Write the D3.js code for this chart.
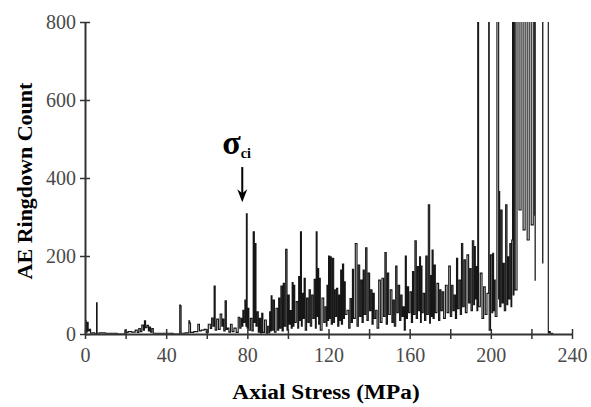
<!DOCTYPE html>
<html>
<head>
<meta charset="utf-8">
<script src="https://cdn.jsdelivr.net/npm/d3@7"></script>
<style>
  body { margin: 0; background: #fff; }
  text { font-family: "Liberation Serif", "Times New Roman", serif; }
</style>
</head>
<body>
<script>
// AE ringdown count against axial stress (peak / trough pairs)
var stress = [
  0, 0.3, 0.8, 1.3, 1.8, 2.5, 3, 4, 5.6, 5.8,
  6.1, 8, 12, 19.5, 19.8, 20.5, 22, 24, 25.5, 26,
  27, 27.5, 28.5, 29, 29.6, 30.1, 31, 31.5, 32, 32.6,
  33.3, 34, 40, 46.6, 46.8, 47.2, 47.5, 51.1, 51.3, 51.8,
  52.2, 55, 56.2, 56.6, 58, 59.5, 60, 61.5, 62, 62.8,
  63.3, 64, 64.3, 65.5, 66, 67.2, 67.6, 68.2, 68.6, 69.5,
  69.8, 70.6, 71.2, 72.2, 72.8, 74, 75, 76, 76.5, 77.3,
  77.6, 78, 78.4, 79.2, 79.4, 79.7, 80.1, 80.5, 81, 82,
  82.5, 83.3, 83.6, 84.1, 84.4, 85.2, 85.6, 86.3, 86.7, 87.5,
  87.8, 89.2, 89.5, 90.5, 90.8, 91.2, 91.5, 92, 92.3, 93.2,
  93.5, 94.8, 95.1, 95.8, 96.1, 97, 97.3, 98.1, 98.4, 99.4,
  99.7, 100.5, 100.8, 101.5, 101.8, 102.4, 102.7, 103.2, 103.5, 104.7,
  105, 105.6, 105.9, 106.5, 106.8, 107.3, 107.6, 108.4, 108.7, 109.7,
  110, 110.9, 111.2, 112.2, 112.5, 113.4, 113.7, 114.2, 114.5, 115,
  115.3, 115.8, 116.1, 117.5, 117.8, 118.8, 119.1, 119.4, 119.7, 120.4,
  120.7, 121.2, 121.5, 122.4, 122.7, 123.2, 123.5, 124.4, 124.7, 125.5,
  125.8, 126.2, 126.5, 127.3, 127.6, 128.1, 128.4, 129.8, 130.1, 131.1,
  131.4, 132.2, 132.5, 133.9, 134.2, 135.2, 135.5, 136.4, 136.7, 137.5,
  137.8, 138.8, 139.1, 140.1, 140.4, 141.3, 141.6, 142.4, 142.7, 143.8,
  144.1, 145.4, 145.7, 147, 147.3, 148.3, 148.6, 149.5, 149.8, 151.1,
  151.4, 152.3, 152.6, 153.6, 153.9, 154.9, 155.2, 156.1, 156.4, 157.2,
  157.5, 158.2, 158.5, 159.3, 159.6, 160.7, 161, 161.8, 162.1, 163.1,
  163.4, 164.3, 164.6, 165.2, 165.5, 165.9, 166.2, 167.2, 167.5, 168.4,
  168.7, 169.7, 170, 170.4, 170.7, 171.4, 171.7, 172.5, 172.8, 174.1,
  174.4, 175.3, 175.6, 176.6, 176.9, 178.3, 178.6, 179.9, 180.2, 181.2,
  181.5, 182.4, 182.7, 183.5, 183.8, 184.8, 185.1, 186, 186.3, 187.3,
  187.6, 188.9, 189.2, 190.1, 190.4, 191.4, 191.7, 192.2, 192.5, 193,
  193.3, 193.8, 194.1, 195.5, 195.8, 197.1, 197.4, 198.8, 199.1, 199.3,
  200.4, 200.7, 201.2, 201.5, 202, 202.3, 203.7, 204, 204.2, 204.5,
  205.4, 205.7, 206.5, 206.8, 207.8, 208.1, 208.6, 208.9, 209.8, 210.1,
  210.5, 210.9, 211.2, 211.6, 212.4, 213.4, 214.4, 215.4, 216.4, 217.4,
  218.4, 219.4, 220.4, 221.4, 221.8, 221.85, 221.9, 225.5, 225.6, 225.65,
  228.3, 228.35, 229, 229.5, 231
];
var count = [
  0, 34, 5, 30, 8, 12, 2, 3, 0, 80,
  2, 3, 2, 0, 10, 4, 6, 5, 10, 4,
  14, 6, 23, 10, 34, 16, 22, 8, 18, 5,
  14, 2, 2, 0, 74, 72, 2, 3, 34, 28,
  4, 6, 25, 8, 10, 12, 4, 25, 14, 41,
  20, 123, 10, 38, 12, 51, 20, 38, 8, 85,
  12, 15, 5, 25, 6, 15, 4, 43, 15, 40,
  20, 61, 30, 87, 20, 308, 15, 66, 10, 40,
  8, 262, 30, 232, 20, 57, 5, 40, 3, 53,
  4, 36, 2, 20, 3, 57, 8, 98, 10, 87,
  5, 66, 10, 92, 15, 123, 8, 130, 20, 217,
  10, 100, 25, 60, 15, 132, 20, 125, 30, 83,
  15, 147, 35, 262, 20, 104, 40, 143, 10, 92,
  30, 113, 20, 100, 40, 140, 15, 262, 45, 168,
  25, 143, 10, 92, 30, 70, 20, 125, 35, 200,
  40, 198, 25, 194, 30, 113, 45, 117, 20, 100,
  35, 164, 25, 179, 40, 134, 50, 61, 15, 91,
  30, 166, 40, 232, 20, 177, 45, 138, 30, 164,
  50, 221, 35, 156, 60, 113, 25, 104, 40, 61,
  15, 138, 30, 143, 45, 209, 25, 156, 50, 113,
  30, 87, 20, 174, 55, 125, 35, 100, 45, 70,
  10, 200, 40, 121, 55, 108, 30, 160, 50, 239,
  40, 173, 60, 198, 30, 174, 55, 104, 35, 200,
  50, 331, 28, 150, 45, 215, 40, 177, 55, 130,
  35, 113, 60, 108, 40, 125, 55, 174, 45, 125,
  60, 100, 40, 194, 65, 138, 50, 232, 70, 190,
  55, 203, 80, 168, 60, 239, 75, 224, 90, 173,
  60, 1200, 70, 156, 40, 121, 50, 104, 1200, 10,
  203, 55, 207, 60, 138, 45, 1200, 90, 365, 70,
  318, 80, 181, 60, 331, 75, 198, 90, 232, 70,
  241, 1200, 100, 1200, 113, 1200, 318, 1200, 267, 1200,
  241, 1200, 280, 1200, 305, 138, 1200, 1200, 182, 1200,
  1500, 3, 6, 2, 0
];

var xTicks = [0, 20, 40, 60, 80, 100, 120, 140, 160, 180, 200, 220, 240];
var yTicks = [0, 200, 400, 600, 800];

// sigma_ci marker
var markStress = 77.5, markTop = 428, markTip = 338;

var margin = { top: 22, right: 19, bottom: 73, left: 85 },
    width = 591 - margin.left - margin.right,
    height = 407 - margin.top - margin.bottom;

var svg = d3.select("body").append("svg")
    .attr("width", width + margin.left + margin.right)
    .attr("height", height + margin.top + margin.bottom)
    .append("g")
    .attr("transform", "translate(" + margin.left + "," + margin.top + ")");

var xScale = d3.scaleLinear().domain([0, 240]).range([0, width]);
var yScale = d3.scaleLinear().domain([0, 800]).range([height, 0]);

svg.append("clipPath").attr("id", "plot")
    .append("rect")
    .attr("x", 0).attr("y", 0)
    .attr("width", width).attr("height", height);

// stepped trace so every burst reads as a vertical stroke
var line = d3.line()
    .curve(d3.curveStep)
    .x(function (i) { return xScale(stress[i]); })
    .y(function (i) { return yScale(count[i]); });

svg.append("path")
    .datum(d3.range(stress.length))
    .attr("clip-path", "url(#plot)")
    .attr("fill", "none")
    .attr("stroke", "#161616")
    .attr("stroke-width", 1.15)
    .attr("d", line);

var xAxis = d3.axisBottom(xScale)
    .tickValues(xTicks)
    .tickSize(5).tickSizeOuter(0).tickPadding(9)
    .tickFormat(function (d) { return d % 40 === 0 ? d : ""; });
var yAxis = d3.axisLeft(yScale)
    .tickValues(yTicks)
    .tickSize(5).tickSizeOuter(0).tickPadding(4);

var gx = svg.append("g")
    .attr("class", "x axis")
    .attr("transform", "translate(0," + height + ")")
    .call(xAxis);
gx.selectAll(".tick line").attr("y1", -5).attr("y2", 5);

var gy = svg.append("g")
    .attr("class", "y axis")
    .call(yAxis);
gy.selectAll(".tick line").attr("x1", -5).attr("x2", 5);

svg.selectAll(".axis .domain").attr("stroke", "#333").attr("stroke-width", 2);
svg.selectAll(".axis .tick line").attr("stroke", "#333").attr("stroke-width", 1.5);
svg.selectAll(".axis text")
    .style("font-family", "'Liberation Serif', serif")
    .style("font-size", "20px")
    .attr("fill", "#4a4a4a");

// axis titles
svg.append("text")
    .attr("transform", "translate(" + (326 - margin.left) + "," + (399 - margin.top) + ") scale(1.06,0.92)")
    .attr("text-anchor", "middle")
    .attr("font-size", 22)
    .attr("font-weight", "bold")
    .text("Axial Stress (MPa)");

svg.append("text")
    .attr("transform", "translate(" + (24 - margin.left) + "," + (181 - margin.top) + ") rotate(-90)")
    .attr("text-anchor", "middle")
    .attr("dy", "0.35em")
    .attr("font-size", 22)
    .attr("font-weight", "bold")
    .text("AE Ringdown Count");

// arrow and label
var ax = xScale(markStress);
svg.append("line")
    .attr("x1", ax).attr("x2", ax)
    .attr("y1", yScale(markTop)).attr("y2", yScale(markTip) - 8)
    .attr("stroke", "#000").attr("stroke-width", 2);
svg.append("path")
    .attr("d", "M" + (ax - 5) + "," + (yScale(markTip) - 13) +
               "L" + ax + "," + yScale(markTip) +
               "L" + (ax + 5) + "," + (yScale(markTip) - 13) +
               "L" + ax + "," + (yScale(markTip) - 9) + "Z")
    .attr("fill", "#000");

var lbl = svg.append("text")
    .attr("x", ax - 20)
    .attr("y", yScale(markTop) - 13)
    .attr("font-weight", "bold");
lbl.append("tspan").attr("font-size", 34).text("σ");
lbl.append("tspan").attr("font-size", 14).attr("dy", 4).text("ci");
</script>
</body>
</html>
